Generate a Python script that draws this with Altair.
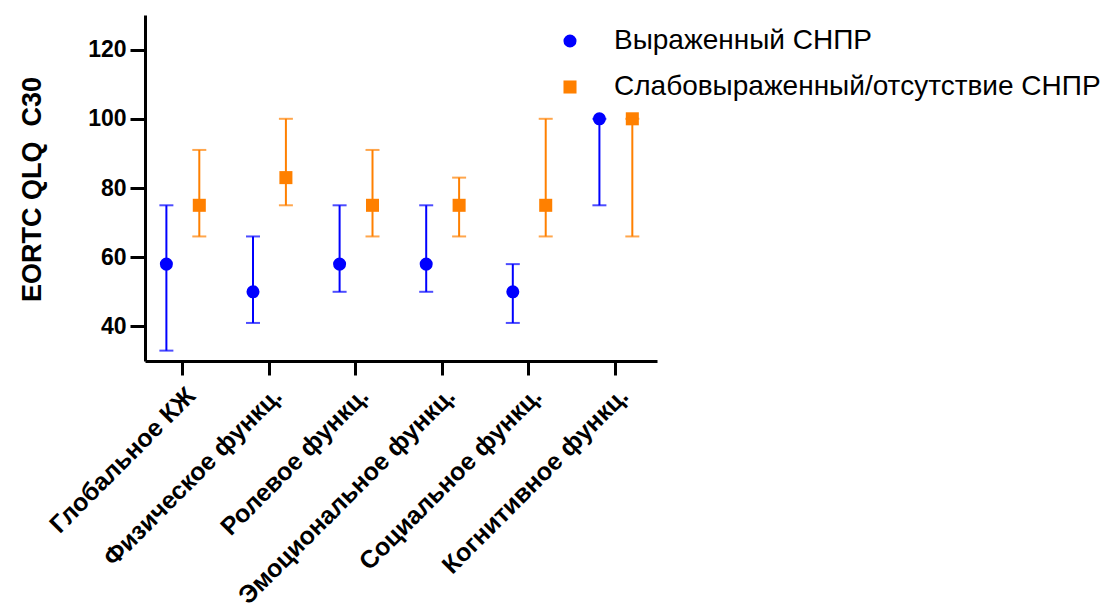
import altair as alt
import pandas as pd

# EORTC QLQ-C30 scale scores: median with interquartile range by group
categories = [
    "Глобальное КЖ",
    "Физическое функц.",
    "Ролевое функц.",
    "Эмоциональное функц.",
    "Социальное функц.",
    "Когнитивное функц.",
]
groups = ["Выраженный СНПР", "Слабовыраженный/отсутствие СНПР"]
group_colors = ["#0000FF", "#FF8000"]
group_shapes = ["circle", "square"]
group_offsets = [-0.18, 0.2]

severe_median = [58, 50, 58, 58, 50, 100]
severe_upper = [75, 66, 75, 75, 58, 100]
severe_lower = [33, 41, 50, 50, 41, 75]

mild_median = [75, 83, 75, 75, 75, 100]
mild_upper = [91, 100, 91, 83, 100, 100]
mild_lower = [66, 75, 66, 66, 66, 66]

y_ticks = [40, 60, 80, 100, 120]

rows = []
for g, (med, hi, lo) in enumerate(
    [(severe_median, severe_upper, severe_lower), (mild_median, mild_upper, mild_lower)]
):
    for i, cat in enumerate(categories):
        rows.append(
            {
                "category": cat,
                "idx": i + 1,
                "pos": i + 1 + group_offsets[g],
                "group": groups[g],
                "median": med[i],
                "upper": hi[i],
                "lower": lo[i],
            }
        )
df = pd.DataFrame(rows)

font = "Liberation Sans"
label_js = "[" + ",".join('"' + c + '"' for c in categories) + "]"

x_enc = alt.X(
    "pos:Q",
    scale=alt.Scale(domain=[0.573, 6.485], nice=False, zero=False),
    axis=alt.Axis(
        values=list(range(1, len(categories) + 1)),
        labelExpr=label_js + "[datum.value - 1]",
        labelAngle=-45,
        labelAlign="right",
        labelBaseline="top",
        labelFont=font,
        labelFontSize=25,
        labelFontWeight="bold",
        labelColor="black",
        labelPadding=8,
        labelOverlap=False,
        labelLimit=0,
        domainColor="black",
        domainWidth=3,
        tickColor="black",
        tickWidth=3,
        tickSize=14,
        grid=False,
        title=None,
    ),
)

y_scale = alt.Scale(domain=[30, 130], nice=False, zero=False)
y_axis = alt.Axis(
    values=y_ticks,
    labelFont=font,
    labelFontSize=23,
    labelFontWeight="bold",
    labelColor="black",
    labelPadding=4,
    domainColor="black",
    domainWidth=3,
    tickColor="black",
    tickWidth=3,
    tickSize=15,
    grid=False,
    title="EORTC QLQ\u00a0 C30",
    titleFont=font,
    titleFontSize=27,
    titleFontWeight="bold",
    titleColor="black",
    titleAngle=-90,
    titleX=-113,
    titleY=174,
    titleAlign="center",
    titleBaseline="middle",
)

color_scale = alt.Scale(domain=groups, range=group_colors)

points = alt.Chart(df).mark_point(filled=True, opacity=1, size=170).encode(
    x=x_enc,
    y=alt.Y("median:Q", scale=y_scale, axis=y_axis),
    color=alt.Color(
        "group:N",
        scale=color_scale,
        legend=alt.Legend(
            title=None,
            orient="none",
            legendX=411,
            legendY=12,
            labelFont=font,
            labelFontSize=28,
            labelColor="black",
            labelOffset=30,
            labelLimit=0,
            rowPadding=18,
            symbolSize=170,
            symbolStrokeWidth=0,
            padding=0,
        ),
    ),
    shape=alt.Shape(
        "group:N",
        scale=alt.Scale(domain=groups, range=group_shapes),
    ),
)

whiskers = alt.Chart(df).mark_rule(strokeWidth=2).encode(
    x=x_enc,
    y=alt.Y("lower:Q", scale=y_scale),
    y2="upper:Q",
    color=alt.Color("group:N", scale=color_scale, legend=None),
)

caps_hi = alt.Chart(df).mark_tick(orient="horizontal", size=14, thickness=2).encode(
    x=x_enc,
    y=alt.Y("upper:Q", scale=y_scale),
    color=alt.Color("group:N", scale=color_scale, legend=None),
)
caps_lo = alt.Chart(df).mark_tick(orient="horizontal", size=14, thickness=2).encode(
    x=x_enc,
    y=alt.Y("lower:Q", scale=y_scale),
    color=alt.Color("group:N", scale=color_scale, legend=None),
)

chart = (
    alt.layer(points, whiskers, caps_hi, caps_lo)
    .resolve_legend(color="independent", shape="independent")
    .properties(
        width=512,
        height=346,
        autosize=alt.AutoSizeParams(type="none"),
        padding={"left": 145, "top": 15, "right": 444, "bottom": 251},
        background="white",
    )
    .configure_view(stroke=None)
)

chart.save("out.html", embed_options={"renderer": "svg", "actions": False})
